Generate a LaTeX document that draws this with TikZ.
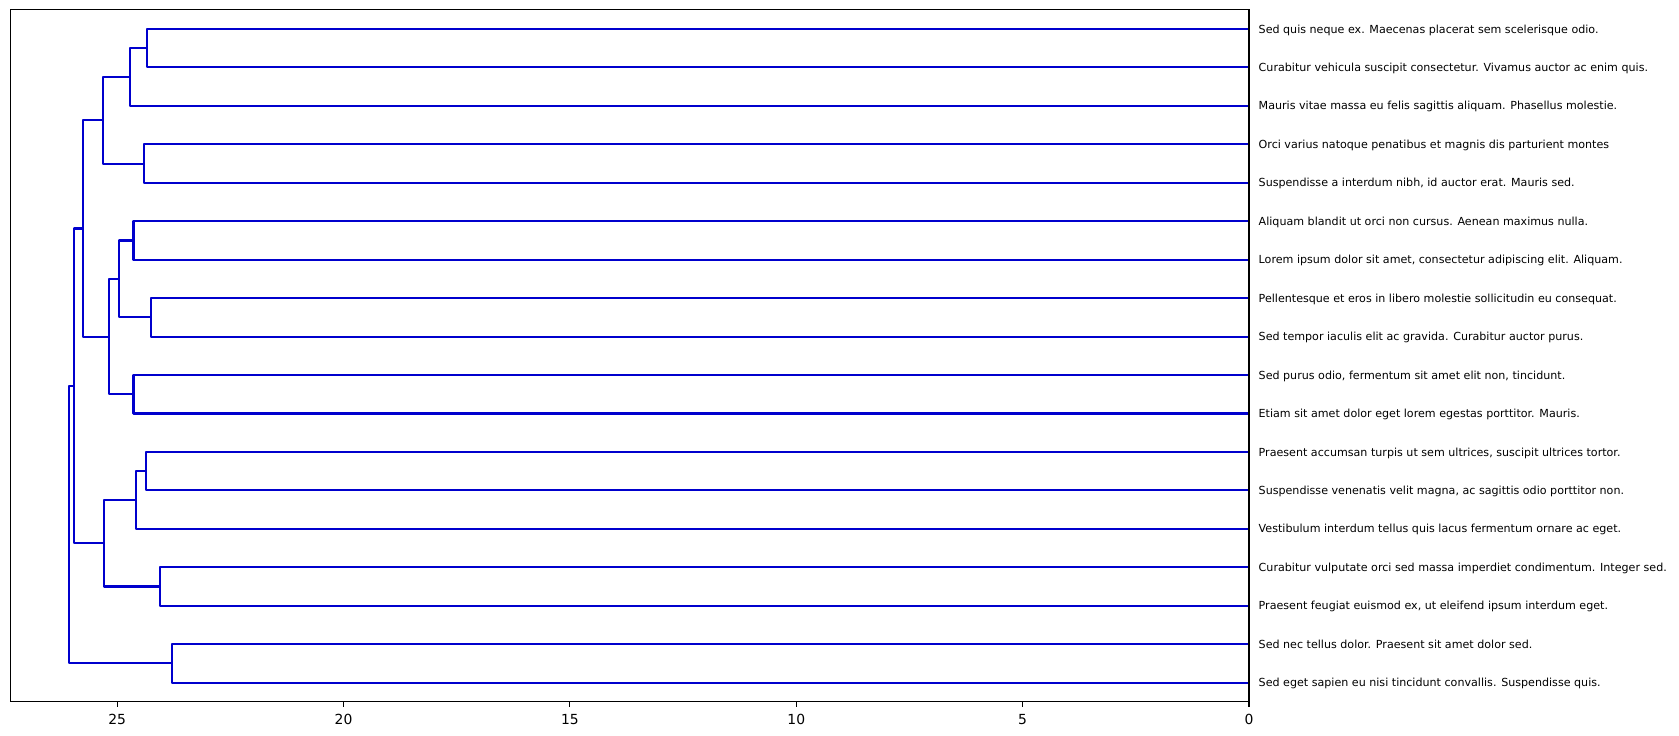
\documentclass[tikz,border=0pt]{standalone}
\usepackage{fontspec}
\setmainfont{DejaVu Sans}
\usepackage{tikz}
\definecolor{dendblue}{RGB}{0,0,205}

\begin{document}
\begin{tikzpicture}[
    x={(-32.594pt,0)},y={(0,-27.684pt)},
    link/.style={draw=dendblue,line width=1.5pt,line join=round},
    leaf/.style={anchor=west,inner xsep=6.8pt,inner ysep=0pt,
                 text height=5.83pt,text depth=0pt,
                 font=\fontsize{8}{9.6}\selectfont},
    frame/.style={line width=0.8pt},
    ticklab/.style={anchor=north,inner sep=0pt,yshift=-5.1pt,
                    font=\fontsize{10}{12}\selectfont}
  ]
    \useasboundingbox (27.59,0.2458) rectangle (-9.499,19.387);
    % leaves, top to bottom
    \node[leaf] (lf1) at (0,1) {Sed quis neque ex. Maecenas placerat sem scelerisque odio.};
    \node[leaf] (lf2) at (0,2) {Curabitur vehicula suscipit consectetur. Vivamus auctor ac enim quis.};
    \node[leaf] (lf3) at (0,3) {Mauris vitae massa eu felis sagittis aliquam. Phasellus molestie.};
    \node[leaf] (lf4) at (0,4) {Orci varius natoque penatibus et magnis dis parturient montes};
    \node[leaf] (lf5) at (0,5) {Suspendisse a interdum nibh, id auctor erat. Mauris sed.};
    \node[leaf] (lf6) at (0,6) {Aliquam blandit ut orci non cursus. Aenean maximus nulla.};
    \node[leaf] (lf7) at (0,7) {Lorem ipsum dolor sit amet, consectetur adipiscing elit. Aliquam.};
    \node[leaf] (lf8) at (0,8) {Pellentesque et eros in libero molestie sollicitudin eu consequat.};
    \node[leaf] (lf9) at (0,9) {Sed tempor iaculis elit ac gravida. Curabitur auctor purus.};
    \node[leaf] (lf10) at (0,10) {Sed purus odio, fermentum sit amet elit non, tincidunt.};
    \node[leaf] (lf11) at (0,11) {Etiam sit amet dolor eget lorem egestas porttitor. Mauris.};
    \node[leaf] (lf12) at (0,12) {Praesent accumsan turpis ut sem ultrices, suscipit ultrices tortor.};
    \node[leaf] (lf13) at (0,13) {Suspendisse venenatis velit magna, ac sagittis odio porttitor non.};
    \node[leaf] (lf14) at (0,14) {Vestibulum interdum tellus quis lacus fermentum ornare ac eget.};
    \node[leaf] (lf15) at (0,15) {Curabitur vulputate orci sed massa imperdiet condimentum. Integer sed.};
    \node[leaf] (lf16) at (0,16) {Praesent feugiat euismod ex, ut eleifend ipsum interdum eget.};
    \node[leaf] (lf17) at (0,17) {Sed nec tellus dolor. Praesent sit amet dolor sed.};
    \node[leaf] (lf18) at (0,18) {Sed eget sapien eu nisi tincidunt convallis. Suspendisse quis.};
    % merge points (height, mid of children)
    \coordinate (c12) at (24.35,1.5);
    \coordinate (c123) at (24.72,2.25);
    \coordinate (c45) at (24.41,4.5);
    \coordinate (cA) at (25.32,3.375);
    \coordinate (c67) at (24.64,6.5);
    \coordinate (c89) at (24.26,8.5);
    \coordinate (c69) at (24.97,7.5);
    \coordinate (c1011) at (24.64,10.5);
    \coordinate (cB) at (25.19,9);
    \coordinate (cAB) at (25.76,6.1875);
    \coordinate (c1213) at (24.37,12.5);
    \coordinate (c1214) at (24.59,13.25);
    \coordinate (c1516) at (24.06,15.5);
    \coordinate (cC) at (25.29,14.375);
    \coordinate (cABC) at (25.96,10.28125);
    \coordinate (c1718) at (23.80,17.5);
    \coordinate (croot) at (26.07,13.890625);
    % links
    \draw[link] (lf1.west) -| (c12) |- (lf2.west);
    \draw[link] (c12) -| (c123) |- (lf3.west);
    \draw[link] (lf4.west) -| (c45) |- (lf5.west);
    \draw[link] (c123) -| (cA) |- (c45);
    \draw[link] (lf6.west) -| (c67) |- (lf7.west);
    \draw[link] (lf8.west) -| (c89) |- (lf9.west);
    \draw[link] (c67) -| (c69) |- (c89);
    \draw[link] (lf10.west) -| (c1011) |- (lf11.west);
    \draw[link] (c69) -| (cB) |- (c1011);
    \draw[link] (cA) -| (cAB) |- (cB);
    \draw[link] (lf12.west) -| (c1213) |- (lf13.west);
    \draw[link] (c1213) -| (c1214) |- (lf14.west);
    \draw[link] (lf15.west) -| (c1516) |- (lf16.west);
    \draw[link] (c1214) -| (cC) |- (c1516);
    \draw[link] (cAB) -| (cABC) |- (cC);
    \draw[link] (lf17.west) -| (c1718) |- (lf18.west);
    \draw[link] (cABC) -| (croot) |- (c1718);
    % axes
    \draw[frame] (27.363,0.5) rectangle (0,18.5);
    \draw[frame] (25,18.5) -- ++(0pt,-3.5pt) node[ticklab] (t25) {25};
    \draw[frame] (20,18.5) -- ++(0pt,-3.5pt) node[ticklab] (t20) {20};
    \draw[frame] (15,18.5) -- ++(0pt,-3.5pt) node[ticklab] (t15) {15};
    \draw[frame] (10,18.5) -- ++(0pt,-3.5pt) node[ticklab] (t10) {10};
    \draw[frame] (5,18.5) -- ++(0pt,-3.5pt) node[ticklab] (t5) {5};
    \draw[frame] (0,18.5) -- ++(0pt,-3.5pt) node[ticklab] (t0) {0};
  \end{tikzpicture}
\end{document}
